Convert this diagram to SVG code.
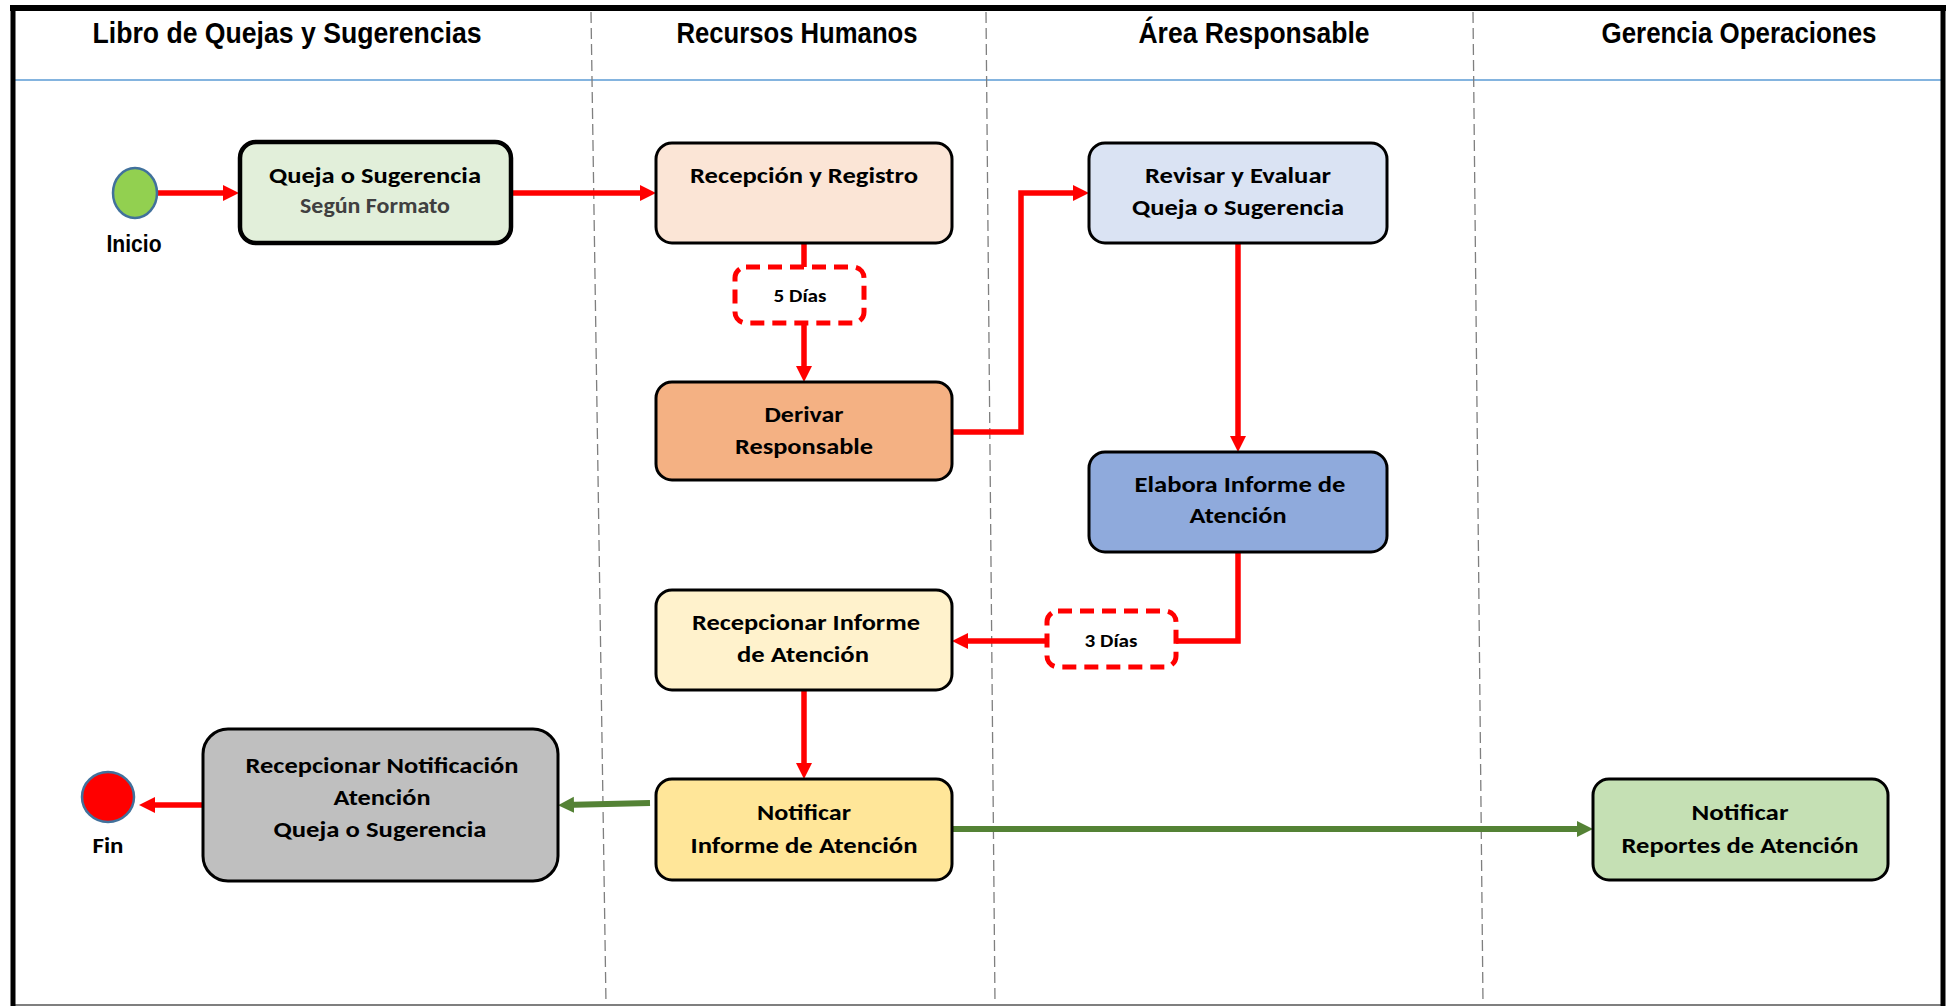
<svg xmlns="http://www.w3.org/2000/svg" width="1951" height="1007" viewBox="0 0 1951 1007">
<style>
.hdr{font-family:"Liberation Sans Narrow","Arial Narrow","Liberation Sans",Arial,sans-serif;font-weight:bold;font-size:30px;fill:#000;text-anchor:middle}
.lbl{font-family:Carlito,Calibri,Lato,"Liberation Sans",sans-serif;font-weight:bold;font-size:23px;fill:#000;text-anchor:middle}
.sm{font-size:17px}
.box{stroke:#000;stroke-width:3}
.days{fill:#fff;stroke:#ff0000;stroke-width:5;stroke-dasharray:14 8}
.lane{stroke:#7f7f7f;stroke-width:1.3;stroke-dasharray:11 5;fill:none}
.red{fill:none;stroke:#ff0000;stroke-width:5.5}
.green{fill:none;stroke:#548235;stroke-width:6}
</style>
<defs>
<marker id="ar" markerUnits="userSpaceOnUse" markerWidth="18" markerHeight="18" refX="10" refY="8" orient="auto"><path d="M0,0 L16,8 L0,16 z" fill="#ff0000"/></marker>
<marker id="ag" markerUnits="userSpaceOnUse" markerWidth="18" markerHeight="18" refX="10" refY="8" orient="auto"><path d="M0,0 L16,8 L0,16 z" fill="#548235"/></marker>
</defs>
<rect x="0" y="0" width="1951" height="1007" fill="#fff"/>
<g id="frame">
<line x1="12" y1="1005" x2="1943" y2="1005" stroke="#7f7f7f" stroke-width="2"/>
<line x1="12" y1="80" x2="1943" y2="80" stroke="#5b9bd5" stroke-width="1.5"/>
<line class="lane" x1="591" y1="12" x2="606" y2="1004"/>
<line class="lane" x1="986" y1="12" x2="995" y2="1004"/>
<line class="lane" x1="1473" y1="12" x2="1483" y2="1004"/>
<line x1="10" y1="8" x2="1946" y2="8" stroke="#000" stroke-width="6"/>
<line x1="13" y1="6" x2="13" y2="1006" stroke="#000" stroke-width="5"/>
<line x1="1943" y1="6" x2="1943" y2="1006" stroke="#000" stroke-width="5"/>
<text class="hdr" x="287" y="43" textLength="389" lengthAdjust="spacingAndGlyphs">Libro de Quejas y Sugerencias</text>
<text class="hdr" x="797" y="43" textLength="241" lengthAdjust="spacingAndGlyphs">Recursos Humanos</text>
<text class="hdr" x="1254" y="43" textLength="231" lengthAdjust="spacingAndGlyphs">Área Responsable</text>
<text class="hdr" x="1739" y="43" textLength="275" lengthAdjust="spacingAndGlyphs">Gerencia Operaciones</text>
</g>
<g id="connectors">
<path class="red" d="M157,193 L233,193" marker-end="url(#ar)"/>
<path class="red" d="M511,193 L650,193" marker-end="url(#ar)"/>
<path class="red" d="M804,243 L804,267"/>
<path class="red" d="M804,323 L804,376" marker-end="url(#ar)"/>
<path class="red" d="M952,432 L1021,432 L1021,193 L1083,193" marker-end="url(#ar)"/>
<path class="red" d="M1238,243 L1238,446" marker-end="url(#ar)"/>
<path class="red" d="M1238,552 L1238,641 L1176,641"/>
<path class="red" d="M1047,641 L958,641" marker-end="url(#ar)"/>
<path class="red" d="M804,690 L804,773" marker-end="url(#ar)"/>
<path class="green" d="M650,803 L564,805" marker-end="url(#ag)"/>
<path class="red" d="M203,805 L145,805" marker-end="url(#ar)"/>
<path class="green" d="M952,829 L1587,829" marker-end="url(#ag)"/>
</g>
<g id="inicio">
<ellipse cx="135" cy="193" rx="22" ry="25" fill="#92d050" stroke="#41719c" stroke-width="2.5"/>
<text class="hdr" x="134" y="252" style="font-size:24px" textLength="55" lengthAdjust="spacingAndGlyphs">Inicio</text>
</g>
<g id="queja">
<rect class="box" x="240" y="142" width="271" height="101" rx="16" fill="#e2efda" style="stroke-width:4.5"/>
<text class="lbl" x="375" y="183" textLength="212" lengthAdjust="spacingAndGlyphs">Queja o Sugerencia</text>
<text class="lbl" x="375" y="213" style="fill:#404040;font-size:22px" textLength="150" lengthAdjust="spacingAndGlyphs">Según Formato</text>
</g>
<g id="recepcion">
<rect class="box" x="656" y="143" width="296" height="100" rx="16" fill="#fbe5d6"/>
<text class="lbl" x="804" y="183" textLength="228" lengthAdjust="spacingAndGlyphs">Recepción y Registro</text>
</g>
<g id="dias5">
<rect class="days" x="735" y="267" width="129" height="56" rx="11"/>
<text class="lbl sm" x="800" y="302" textLength="53" lengthAdjust="spacingAndGlyphs">5 Días</text>
</g>
<g id="derivar">
<rect class="box" x="656" y="382" width="296" height="98" rx="16" fill="#f4b183"/>
<text class="lbl" x="804" y="422" textLength="79" lengthAdjust="spacingAndGlyphs">Derivar</text>
<text class="lbl" x="804" y="454" textLength="138" lengthAdjust="spacingAndGlyphs">Responsable</text>
</g>
<g id="revisar">
<rect class="box" x="1089" y="143" width="298" height="100" rx="16" fill="#dae3f3"/>
<text class="lbl" x="1238" y="183" textLength="186" lengthAdjust="spacingAndGlyphs">Revisar y Evaluar</text>
<text class="lbl" x="1238" y="215" textLength="212" lengthAdjust="spacingAndGlyphs">Queja o Sugerencia</text>
</g>
<g id="elabora">
<rect class="box" x="1089" y="452" width="298" height="100" rx="16" fill="#8faadc"/>
<text class="lbl" x="1240" y="492" textLength="211" lengthAdjust="spacingAndGlyphs">Elabora Informe de</text>
<text class="lbl" x="1238" y="523" textLength="97" lengthAdjust="spacingAndGlyphs">Atención</text>
</g>
<g id="dias3">
<rect class="days" x="1047" y="611" width="129" height="56" rx="11"/>
<text class="lbl sm" x="1111" y="647" textLength="53" lengthAdjust="spacingAndGlyphs">3 Días</text>
</g>
<g id="recepcionar-informe">
<rect class="box" x="656" y="590" width="296" height="100" rx="16" fill="#fff2cc"/>
<text class="lbl" x="806" y="630" textLength="228" lengthAdjust="spacingAndGlyphs">Recepcionar Informe</text>
<text class="lbl" x="803" y="662" textLength="132" lengthAdjust="spacingAndGlyphs">de Atención</text>
</g>
<g id="notificar-informe">
<rect class="box" x="656" y="779" width="296" height="101" rx="16" fill="#ffe699"/>
<text class="lbl" x="804" y="820" textLength="94" lengthAdjust="spacingAndGlyphs">Notificar</text>
<text class="lbl" x="804" y="853" textLength="227" lengthAdjust="spacingAndGlyphs">Informe de Atención</text>
</g>
<g id="recepcionar-notificacion">
<rect class="box" x="203" y="729" width="355" height="152" rx="25" fill="#bfbfbf"/>
<text class="lbl" x="382" y="773" textLength="273" lengthAdjust="spacingAndGlyphs">Recepcionar Notificación</text>
<text class="lbl" x="382" y="805" textLength="97" lengthAdjust="spacingAndGlyphs">Atención</text>
<text class="lbl" x="380" y="837" textLength="213" lengthAdjust="spacingAndGlyphs">Queja o Sugerencia</text>
</g>
<g id="fin">
<ellipse cx="108" cy="797" rx="26" ry="25" fill="#ff0000" stroke="#41719c" stroke-width="2.5"/>
<text class="lbl" x="108" y="853" style="font-size:22px" textLength="31" lengthAdjust="spacingAndGlyphs">Fin</text>
</g>
<g id="notificar-reportes">
<rect class="box" x="1593" y="779" width="295" height="101" rx="16" fill="#c5e0b4"/>
<text class="lbl" x="1740" y="820" textLength="97" lengthAdjust="spacingAndGlyphs">Notificar</text>
<text class="lbl" x="1740" y="853" textLength="237" lengthAdjust="spacingAndGlyphs">Reportes de Atención</text>
</g>
</svg>
